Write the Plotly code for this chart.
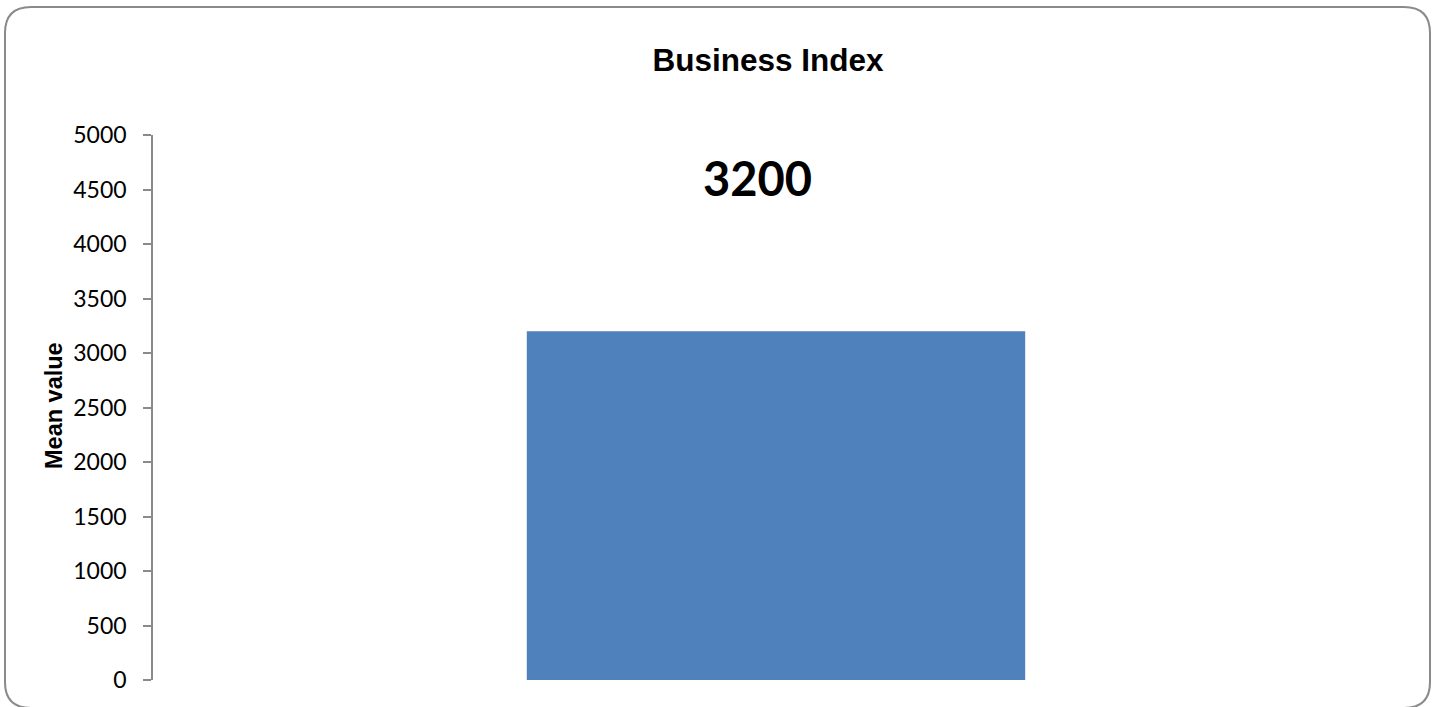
import plotly.graph_objects as go

categories = ["Business Index"]
values = [3200]
value_labels = ["3200"]
y_ticks = [0, 500, 1000, 1500, 2000, 2500, 3000, 3500, 4000, 4500, 5000]

W, H = 1435, 707
L, R, T, B = 153, 36, 135, 27
pw, ph = W - L - R, H - T - B

def px(x):
    return (x - L) / pw

def py(y):
    return (H - B - y) / ph

fig = go.Figure()
fig.add_trace(go.Bar(
    x=categories, y=values,
    marker=dict(color="#4f81bd", line=dict(width=0)),
    hoverinfo="skip",
))

fig.add_annotation(
    x=categories[0], y=values[0], text=value_labels[0],
    showarrow=False, yshift=153, xshift=-19,
    font=dict(family="Lato", size=47, color="#000000", weight="bold"),
    yanchor="middle", xanchor="center",
)

fig.add_annotation(
    xref="paper", yref="paper", x=px(54), y=py(405),
    text="<b>Mean value</b>", showarrow=False, textangle=-90,
    font=dict(family="Liberation Sans, Arial", size=23.5, color="#000000"),
    xanchor="center", yanchor="middle",
)

# rounded chart border
x0, x1, y0, y1, r = px(5), px(1430), py(7), py(708), 26
rx, ry = r / pw, r / ph
path = (f"M {x0+rx},{y0} L {x1-rx},{y0} Q {x1},{y0} {x1},{y0-ry} "
        f"L {x1},{y1+ry} Q {x1},{y1} {x1-rx},{y1} "
        f"L {x0+rx},{y1} Q {x0},{y1} {x0},{y1+ry} "
        f"L {x0},{y0-ry} Q {x0},{y0} {x0+rx},{y0} Z")
fig.add_shape(type="path", path=path, xref="paper", yref="paper",
              line=dict(color="#8a8a8a", width=2), layer="below")

fig.update_layout(
    width=W, height=H,
    margin=dict(l=L, r=R, t=T, b=B, pad=0),
    paper_bgcolor="white", plot_bgcolor="white",
    showlegend=False,
    bargap=0.6,
    title=dict(
        text="<b>Business Index</b>", x=768 / W, xref="container",
        y=1 - 60 / H, yref="container", xanchor="center", yanchor="middle",
        font=dict(family="Liberation Sans, Arial", size=31.5, color="#000000"),
    ),
    xaxis=dict(showticklabels=False, showline=False, showgrid=False,
               zeroline=False, ticks=""),
    yaxis=dict(range=[0, 5000], tickvals=y_ticks,
               ticktext=[str(v) for v in y_ticks],
               showgrid=False, zeroline=False, showline=True,
               linecolor="#8a8a8a", linewidth=1.5,
               ticks="outside", ticklen=8, tickwidth=1.5, tickcolor="#8a8a8a",
               ticklabelstandoff=12,
               tickfont=dict(family="Lato", size=23, color="#000000")),
)

fig.write_html("out.html")
